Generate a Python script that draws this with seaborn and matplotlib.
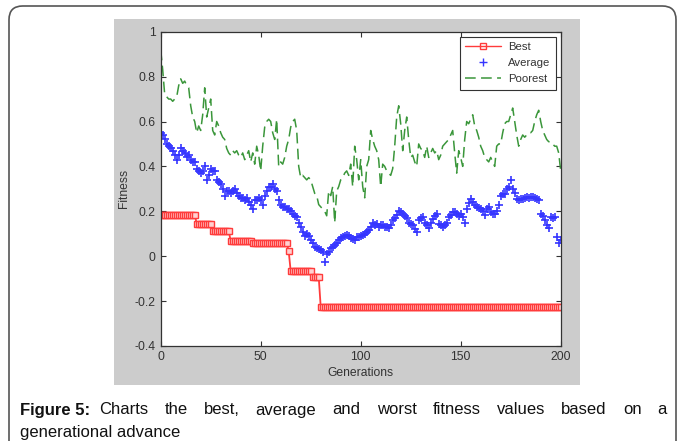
import matplotlib
matplotlib.use("Agg")
import matplotlib.pyplot as plt
import numpy as np
import pandas as pd
import seaborn as sns
from matplotlib.lines import Line2D
from matplotlib.patches import FancyBboxPatch, Rectangle

# best fitness: value held from each start generation on
best_starts = [0, 18, 26, 35, 46, 64, 65, 76, 80]
best_levels = [0.185, 0.145, 0.112, 0.068, 0.059, 0.022, -0.067, -0.092, -0.225]

average = [
    0.55, 0.54, 0.52, 0.50, 0.49, 0.48, 0.47, 0.45, 0.43, 0.45,
    0.48, 0.47, 0.46, 0.44, 0.45, 0.43, 0.42, 0.42, 0.39, 0.38,
    0.37, 0.38, 0.40, 0.34, 0.36, 0.39, 0.38, 0.38, 0.34, 0.33,
    0.32, 0.30, 0.27, 0.29, 0.29, 0.28, 0.29, 0.30, 0.28, 0.27,
    0.26, 0.26, 0.25, 0.26, 0.24, 0.23, 0.21, 0.25, 0.25, 0.26,
    0.25, 0.23, 0.27, 0.29, 0.31, 0.31, 0.32, 0.30, 0.29, 0.25,
    0.23, 0.22, 0.22, 0.21, 0.21, 0.20, 0.19, 0.18, 0.175, 0.15,
    0.13, 0.11, 0.09, 0.10, 0.09, 0.07, 0.06, 0.04, 0.035, 0.03,
    0.027, 0.02, -0.025, 0.01, 0.02, 0.035, 0.04, 0.05, 0.06, 0.07,
    0.08, 0.085, 0.09, 0.094, 0.09, 0.08, 0.075, 0.07, 0.085, 0.085,
    0.09, 0.094, 0.10, 0.108, 0.115, 0.13, 0.15, 0.14, 0.145, 0.13,
    0.14, 0.138, 0.13, 0.13, 0.124, 0.14, 0.16, 0.17, 0.182, 0.20,
    0.195, 0.19, 0.18, 0.17, 0.15, 0.145, 0.138, 0.12, 0.108, 0.16,
    0.17, 0.175, 0.15, 0.138, 0.124, 0.15, 0.167, 0.18, 0.19, 0.145,
    0.14, 0.13, 0.14, 0.15, 0.175, 0.185, 0.197, 0.195, 0.19, 0.18,
    0.19, 0.175, 0.15, 0.21, 0.235, 0.256, 0.24, 0.23, 0.22, 0.215,
    0.21, 0.20, 0.182, 0.21, 0.22, 0.197, 0.19, 0.19, 0.20, 0.23,
    0.27, 0.275, 0.278, 0.30, 0.31, 0.338, 0.30, 0.28, 0.256, 0.25,
    0.255, 0.256, 0.26, 0.264, 0.26, 0.264, 0.264, 0.26, 0.256, 0.25,
    0.19, 0.18, 0.16, 0.14, 0.124, 0.175, 0.17, 0.175, 0.085, 0.06,
    0.07,
]

poorest = [
    0.92, 0.83, 0.72, 0.71, 0.70, 0.70, 0.69, 0.70, 0.71, 0.76,
    0.79, 0.77, 0.78, 0.76, 0.75, 0.67, 0.62, 0.60, 0.55, 0.58,
    0.56, 0.63, 0.75, 0.62, 0.66, 0.70, 0.56, 0.54, 0.60, 0.58,
    0.55, 0.53, 0.52, 0.48, 0.46, 0.45, 0.47, 0.46, 0.47, 0.45,
    0.44, 0.46, 0.43, 0.45, 0.47, 0.42, 0.46, 0.41, 0.49, 0.45,
    0.38, 0.49, 0.575, 0.60, 0.61, 0.60, 0.55, 0.52, 0.61, 0.40,
    0.42, 0.41, 0.44, 0.49, 0.52, 0.575, 0.60, 0.61, 0.56, 0.40,
    0.35, 0.36, 0.35, 0.34, 0.35, 0.34, 0.31, 0.28, 0.27, 0.23,
    0.22, 0.21, 0.20, 0.18, 0.29, 0.27, 0.31, 0.15, 0.29, 0.31,
    0.34, 0.35, 0.37, 0.38, 0.36, 0.41, 0.31, 0.49, 0.43, 0.34,
    0.43, 0.31, 0.26, 0.40, 0.43, 0.56, 0.52, 0.49, 0.47, 0.43,
    0.31, 0.41, 0.40, 0.38, 0.37, 0.36, 0.39, 0.49, 0.62, 0.67,
    0.59, 0.47, 0.56, 0.62, 0.52, 0.44, 0.45, 0.42, 0.40, 0.50,
    0.48, 0.47, 0.44, 0.49, 0.44, 0.46, 0.48, 0.46, 0.47, 0.43,
    0.45, 0.49, 0.50, 0.51, 0.52, 0.54, 0.56, 0.46, 0.37, 0.47,
    0.44, 0.40, 0.52, 0.60, 0.59, 0.61, 0.63, 0.58, 0.56, 0.53,
    0.49, 0.47, 0.44, 0.43, 0.42, 0.44, 0.42, 0.40, 0.49, 0.50,
    0.50, 0.55, 0.59, 0.60, 0.60, 0.63, 0.66, 0.60, 0.54, 0.49,
    0.52, 0.54, 0.53, 0.54, 0.55, 0.55, 0.56, 0.60, 0.63, 0.65,
    0.60, 0.56, 0.54, 0.52, 0.51, 0.51, 0.50, 0.49, 0.49, 0.46,
    0.38,
]

x_ticks = [0, 50, 100, 150, 200]
y_ticks = [-0.4, -0.2, 0, 0.2, 0.4, 0.6, 0.8, 1]
y_tick_labels = ["-0.4", "-0.2", "0", "0.2", "0.4", "0.6", "0.8", "1"]

caption_head = "Figure 5:"
caption_line1 = "Charts the best, average and worst fitness values based on a"
caption_line2 = "generational advance"

RED = "#ff3b3b"
BLUE = "#3535ff"
GREEN = "#3a963a"
INK = "#333333"
W, H = 683, 441
DASH = (0, (7, 3.5))


def build_frame() -> pd.DataFrame:
    gens = np.arange(len(average))
    runs = np.diff(best_starts + [len(gens)])
    best = np.repeat(best_levels, runs)
    return pd.DataFrame(
        {"gen": gens, "best": best, "average": average, "poorest": poorest}
    )


def justified_line(fig, words, x0, x1, y, **kw):
    # place words so that the line fills x0..x1 (pixels), like justified text
    renderer = fig.canvas.get_renderer()
    texts = [fig.text(0, y / H, w, va="center", **kw) for w in words]
    widths = [t.get_window_extent(renderer).width for t in texts]
    gap = (x1 - x0 - sum(widths)) / (len(words) - 1)
    x = x0
    for t, w in zip(texts, widths):
        t.set_x(x / W)
        x += w + gap


def main():
    df = build_frame()

    sns.set_style("ticks")
    plt.rcParams["font.family"] = ["Liberation Sans", "DejaVu Sans"]
    plt.rcParams["xtick.direction"] = "in"
    plt.rcParams["ytick.direction"] = "in"

    fig = plt.figure(figsize=(W / 100, H / 100), dpi=100)
    fig.patch.set_facecolor("white")

    # page frame and the grey matlab figure window
    frame = FancyBboxPatch(
        (9 / W, -0.05), 667 / W, (H - 6) / H + 0.05,
        boxstyle="round,pad=0,rounding_size=0.02",
        transform=fig.transFigure, fill=False, edgecolor="#555555", lw=1.2,
        mutation_aspect=W / H, zorder=-2,
    )
    fig.patches.append(frame)
    fig.patches.append(Rectangle(
        (114 / W, 56 / H), 466 / W, 366 / H,
        transform=fig.transFigure, facecolor="#cccccc", edgecolor="none",
        zorder=-1,
    ))

    ax = fig.add_axes([160.7 / W, 95 / H, 400 / W, 314.3 / H])
    ax.set_facecolor("white")

    sns.lineplot(
        data=df, x="gen", y="poorest", ax=ax, color=GREEN, lw=1.1,
        linestyle=DASH,
    )
    sns.scatterplot(
        data=df, x="gen", y="average", ax=ax, color=BLUE, marker="+",
        s=34, linewidth=1.2,
    )
    sns.lineplot(
        data=df, x="gen", y="best", ax=ax, color=RED, lw=1.3,
        marker="s", markersize=4.8, markerfacecolor="#ffd0d0",
        markeredgecolor=RED, markeredgewidth=1.0,
    )

    ax.set_xlim(0, 200)
    ax.set_ylim(-0.4, 1)
    ax.set_xticks(x_ticks)
    ax.set_yticks(y_ticks)
    ax.set_yticklabels(y_tick_labels)
    ax.tick_params(
        axis="both", which="both", top=True, right=True, length=3.5,
        width=0.8, colors=INK, labelsize=8.7, pad=3.5,
    )
    for side in ax.spines.values():
        side.set_color(INK)
        side.set_linewidth(0.9)
    ax.set_xlabel("Generations", fontsize=8.7, color=INK)
    ax.set_ylabel("Fitness", fontsize=8.7, color=INK)
    ax.xaxis.set_label_coords(0.5, -0.067)
    ax.yaxis.set_label_coords(-0.078, 0.5)

    handles = [
        Line2D([], [], color=RED, lw=1.0, marker="s", markersize=4.8,
               markerfacecolor="none", markeredgecolor=RED),
        Line2D([], [], color=BLUE, lw=0, marker="+", markersize=5.5),
        Line2D([], [], color=GREEN, lw=1.1, linestyle=DASH),
    ]
    leg = ax.legend(
        handles, ["Best", "Average", "Poorest"], loc="upper right",
        fontsize=8.2, frameon=True, fancybox=False, borderaxespad=0.45,
        handlelength=3.2, handletextpad=0.6, labelspacing=0.55,
        borderpad=0.45,
    )
    leg.get_frame().set_edgecolor(INK)
    leg.get_frame().set_linewidth(0.8)
    leg.get_frame().set_alpha(1)
    for t in leg.get_texts():
        t.set_color(INK)

    # caption
    renderer = fig.canvas.get_renderer()
    head = fig.text(20 / W, 1 - 410 / H, caption_head, fontsize=12,
                    fontweight="bold", color="#111111", va="center")
    head_end = 20 + head.get_window_extent(renderer).width + 9
    justified_line(fig, caption_line1.split(), head_end, 667, H - 410,
                   fontsize=12, color="#111111")
    fig.text(20 / W, 1 - 432 / H, caption_line2, fontsize=12,
             color="#111111", va="center")

    fig.savefig("out.png", dpi=100)


main()
